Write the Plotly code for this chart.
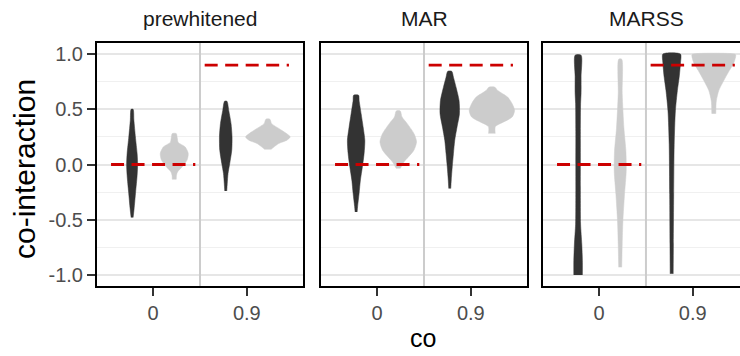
import plotly.graph_objects as go

# ---------------- data ----------------
facets = ["prewhitened", "MAR", "MARSS"]
co_levels = ["0", "0.9"]
true_values = [0.0, 0.9]
series = ["s1", "s2"]

# violin density profiles: (y values, relative density)
# key: (facet, co level, series)
violin_y = {
    ("prewhitened", "0", "s1"): [-0.48, -0.40, -0.25, -0.10, 0.0, 0.10, 0.25, 0.40, 0.50],
    ("prewhitened", "0", "s2"): [-0.135, -0.10, -0.067, -0.02, 0.04, 0.10, 0.16, 0.20, 0.24, 0.28],
    ("prewhitened", "0.9", "s1"): [-0.24, -0.17, -0.08, 0.01, 0.13, 0.25, 0.37, 0.49, 0.573],
    ("prewhitened", "0.9", "s2"): [0.136, 0.16, 0.19, 0.22, 0.25, 0.28, 0.326, 0.37, 0.41],
    ("MAR", "0", "s1"): [-0.43, -0.38, -0.26, -0.14, -0.02, 0.10, 0.22, 0.34, 0.46, 0.58, 0.627],
    ("MAR", "0", "s2"): [-0.036, 0.024, 0.07, 0.13, 0.205, 0.28, 0.37, 0.43, 0.485],
    ("MAR", "0.9", "s1"): [-0.217, -0.14, -0.02, 0.10, 0.22, 0.34, 0.46, 0.58, 0.70, 0.79, 0.844],
    ("MAR", "0.9", "s2"): [0.28, 0.34, 0.36, 0.385, 0.43, 0.49, 0.55, 0.61, 0.67, 0.70],
    ("MARSS", "0", "s1"): [-1.0, -0.87, -0.72, -0.54, -0.30, 0.0, 0.30, 0.55, 0.65, 0.80, 0.99],
    ("MARSS", "0", "s2"): [-0.93, -0.72, -0.51, -0.27, -0.06, 0.12, 0.33, 0.64, 0.953],
    ("MARSS", "0.9", "s1"): [-0.99, -0.72, -0.27, 0.18, 0.485, 0.67, 0.79, 0.92, 1.0],
    ("MARSS", "0.9", "s2"): [0.46, 0.575, 0.67, 0.76, 0.85, 0.92, 0.99, 1.0],
}
violin_d = {
    ("prewhitened", "0", "s1"): [1, 2, 3.5, 5, 5.5, 5, 3.3, 1.8, 1],
    ("prewhitened", "0", "s2"): [2, 2.2, 3.3, 8, 12.8, 14, 10.8, 4, 3, 2],
    ("prewhitened", "0.9", "s1"): [1, 1.5, 2.3, 4, 6, 6.3, 5.3, 3, 1.2],
    ("prewhitened", "0.9", "s2"): [3, 6.3, 10.8, 19, 22.3, 18.7, 11, 3.8, 2],
    ("MAR", "0", "s1"): [1, 1.5, 3, 4.3, 6.3, 8, 8.7, 7, 5, 3, 2.5],
    ("MAR", "0", "s2"): [2, 5.8, 10.3, 15.7, 18.3, 15.7, 9, 3.8, 2],
    ("MAR", "0.9", "s1"): [1, 1.5, 2.5, 3.7, 5, 7.3, 9.7, 9.3, 6.3, 3.7, 2],
    ("MAR", "0.9", "s2"): [3.3, 3.3, 6, 11.7, 20.3, 22.7, 20.3, 15.8, 5.8, 3],
    ("MARSS", "0", "s1"): [4.3, 4.3, 3.7, 2.5, 2.3, 2.3, 2.3, 2.5, 3, 3, 3],
    ("MARSS", "0", "s2"): [1.5, 2, 2.7, 4.3, 6, 5.7, 3.7, 2, 1.5],
    ("MARSS", "0.9", "s1"): [1.5, 1.7, 2, 2.5, 3.7, 5.7, 7.5, 8.8, 8.8],
    ("MARSS", "0.9", "s2"): [2, 2.5, 5, 10, 15.5, 20, 22, 21],
}

y_ticks = [-1.0, -0.5, 0.0, 0.5, 1.0]
y_tick_labels = ["-1.0", "-0.5", "0.0", "0.5", "1.0"]

# ---------------- styling ----------------
W, H = 740, 356
FILL = {"s1": "#333333", "s2": "#CCCCCC"}
DODGE = {"s1": -0.225, "s2": 0.225}
DENS_SCALE = 1 / 93.6          # density units -> x data units
SEG_HALF = 0.45
SEPARATOR = 1.5
FONT = "Liberation Sans, Arial, sans-serif"

panel_px = [(97, 303), (321, 527), (543, 740)]
x_ranges = [[0.4, 2.6], [0.4, 2.6], [0.4, 2.505]]
y_dom = [1 - 286 / H, 1 - 43 / H]

fig = go.Figure()

for i, facet in enumerate(facets):
    xa = "x" if i == 0 else f"x{i+1}"
    ya = "y" if i == 0 else f"y{i+1}"
    # separator line
    fig.add_trace(go.Scatter(x=[SEPARATOR, SEPARATOR], y=[-1.1, 1.1], mode="lines",
                             line=dict(color="#CCCCCC", width=2), xaxis=xa, yaxis=ya,
                             hoverinfo="skip", showlegend=False))
    for j, co in enumerate(co_levels):
        for s in series:
            ys = violin_y[(facet, co, s)]
            ds = violin_d[(facet, co, s)]
            c = j + 1 + DODGE[s]
            xs = [c + d * DENS_SCALE for d in ds] + [c - d * DENS_SCALE for d in reversed(ds)]
            yy = list(ys) + list(reversed(ys))
            fig.add_trace(go.Scatter(x=xs, y=yy, mode="lines", fill="toself",
                                     fillcolor=FILL[s],
                                     line=dict(color=FILL[s], width=0.5, shape="spline", smoothing=0.7),
                                     xaxis=xa, yaxis=ya, hoverinfo="skip", showlegend=False))
    for j, tv in enumerate(true_values):
        fig.add_trace(go.Scatter(x=[j + 1 - SEG_HALF, j + 1 + SEG_HALF], y=[tv, tv], mode="lines",
                                 line=dict(color="#CC0000", width=2.8, dash="13px,7.5px"),
                                 xaxis=xa, yaxis=ya, hoverinfo="skip", showlegend=False))

layout = dict(width=W, height=H, margin=dict(l=0, r=0, t=0, b=0),
              paper_bgcolor="white", plot_bgcolor="white", showlegend=False,
              font=dict(family=FONT, color="#1A1A1A"))

for i, facet in enumerate(facets):
    xk = "xaxis" if i == 0 else f"xaxis{i+1}"
    yk = "yaxis" if i == 0 else f"yaxis{i+1}"
    ya = "y" if i == 0 else f"y{i+1}"
    xa = "x" if i == 0 else f"x{i+1}"
    l, r = panel_px[i]
    layout[xk] = dict(domain=[l / W, r / W], range=x_ranges[i], anchor=ya,
                      tickvals=[1, 2], ticktext=co_levels, showgrid=False, zeroline=False,
                      ticks="outside", ticklen=8, tickwidth=2, tickcolor="#333333",
                      tickfont=dict(size=20, color="#4D4D4D", family=FONT),
                      showline=True, linecolor="black", linewidth=2, mirror=True,
                      fixedrange=True)
    layout[yk] = dict(domain=y_dom, range=[-1.1, 1.1], anchor=xa,
                      tickvals=y_ticks, ticktext=y_tick_labels,
                      showgrid=True, gridcolor="#E6E6E6", gridwidth=1.5, zeroline=False,
                      minor=dict(tickvals=[-0.75, -0.25, 0.25, 0.75], showgrid=True,
                                 gridcolor="#F0F0F0", gridwidth=1, ticks=""),
                      ticks="outside" if i == 0 else "", ticklen=8, tickwidth=2, tickcolor="#333333",
                      showticklabels=(i == 0),
                      tickfont=dict(size=20, color="#4D4D4D", family=FONT),
                      showline=True, linecolor="black", linewidth=2,
                      mirror=(i < 2), fixedrange=True)
fig.update_layout(**layout)

annotations = []
for i, facet in enumerate(facets):
    l, r = panel_px[i]
    cx = (l + (l + 206)) / 2
    annotations.append(dict(text=facet, x=cx / W, y=1 - 18 / H, xref="paper", yref="paper",
                            xanchor="center", yanchor="middle", showarrow=False,
                            font=dict(size=21, color="#1A1A1A", family=FONT)))
annotations.append(dict(text="co", x=423 / W, y=1 - 354 / H, xref="paper", yref="paper",
                        xanchor="center", yanchor="bottom", showarrow=False,
                        font=dict(size=25, color="black", family=FONT)))
annotations.append(dict(text="co-interaction", x=24 / W, y=1 - 169 / H, xref="paper", yref="paper",
                        xanchor="center", yanchor="middle", showarrow=False, textangle=-90,
                        font=dict(size=30, color="black", family=FONT)))
fig.update_layout(annotations=annotations)

fig.write_html("out.html")
